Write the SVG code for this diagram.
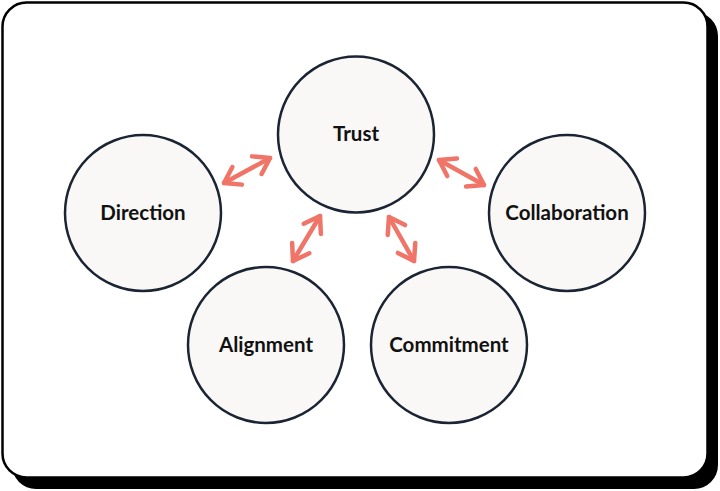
<svg xmlns="http://www.w3.org/2000/svg" width="720" height="491" viewBox="0 0 720 491">
  <style>
    .node circle { fill: #f9f8f6; stroke: #1b2433; stroke-width: 2.5; }
    .node text { font-family: Lato, "Noto Sans", "Liberation Sans", sans-serif; font-weight: 700; font-size: 20.5px; fill: #111111; text-anchor: middle; dominant-baseline: central; }
    .conn path { fill: none; stroke: #f07468; stroke-width: 4.5; stroke-linecap: round; marker-start: url(#head); marker-end: url(#head); }
  </style>
  <defs>
    <marker id="head" markerUnits="userSpaceOnUse" viewBox="-20 -15 25 30" refX="0" refY="0" markerWidth="25" markerHeight="30" orient="auto-start-reverse">
      <path d="M-15,-10 L0,0 L-15,10" fill="none" stroke="#f07468" stroke-width="4.5" stroke-linecap="round" stroke-linejoin="round"/>
    </marker>
  </defs>
  <rect x="12" y="12" width="706" height="477" rx="24" fill="#000000"/>
  <rect x="2.5" y="2.5" width="705" height="475" rx="24" fill="#ffffff" stroke="#000000" stroke-width="2.5"/>
  <g class="conn">
    <path d="M224,183 L270,158"/>
    <path d="M320,216 L293,261"/>
    <path d="M389,217 L414,261"/>
    <path d="M439,160 L484,185"/>
  </g>
  <g id="trust" class="node"><circle cx="356" cy="134.5" r="78"/><text x="356" y="133">Trust</text></g>
  <g id="direction" class="node"><circle cx="143" cy="213" r="78"/><text x="143" y="212">Direction</text></g>
  <g id="collaboration" class="node"><circle cx="567" cy="213" r="78"/><text x="567" y="212">Collaboration</text></g>
  <g id="alignment" class="node"><circle cx="266" cy="345" r="78"/><text x="266" y="344">Alignment</text></g>
  <g id="commitment" class="node"><circle cx="449" cy="345" r="78"/><text x="449" y="344">Commitment</text></g>
</svg>
